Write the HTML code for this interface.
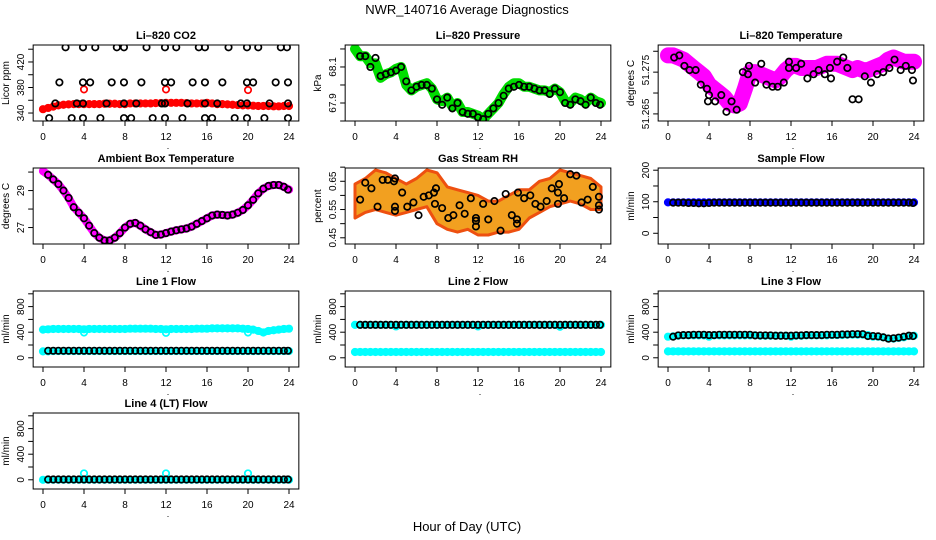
<!DOCTYPE html>
<html><head><meta charset="utf-8"><style>
html,body{margin:0;padding:0;background:#fff;}
svg{display:block;font-family:"Liberation Sans",sans-serif;}
</style></head><body>
<svg id="chart" width="936" height="540" viewBox="0 0 936 540" xmlns="http://www.w3.org/2000/svg">
<text x="467" y="14" text-anchor="middle" font-size="13">NWR_140716  Average Diagnostics</text>
<text x="467" y="531" text-anchor="middle" font-size="13">Hour of Day (UTC)</text>
</svg>
<script>
// ---- shared time arrays ----
const t49 = [0,0.5,1,1.5,2,2.5,3,3.5,4,4.5,5,5.5,6,6.5,7,7.5,8,8.5,9,9.5,10,10.5,11,11.5,12,12.5,13,13.5,14,14.5,15,15.5,16,16.5,17,17.5,18,18.5,19,19.5,20,20.5,21,21.5,22,22.5,23,23.5,24];
const tB = [0.5,1,1.5,2,2.5,3,3.5,4,4.5,5,5.5,6,6.5,7,7.5,8,8.5,9,9.5,10,10.5,11,11.5,12,12.5,13,13.5,14,14.5,15,15.5,16,16.5,17,17.5,18,18.5,19,19.5,20,20.5,21,21.5,22,22.5,23,23.5,23.9];
const t25 = [0,1,2,3,4,5,6,7,8,9,10,11,12,13,14,15,16,17,18,19,20,21,22,23,24];
const xTicks = [0,4,8,12,16,20,24];

// ---- CO2 ----
const co2Red = [346,348,350,352,353,353.5,354,354,354,354,354,354,354.5,354.5,354.5,354,354,355,355,355,355,355,355.5,355.5,356,356,356,356,355.5,355,355,355,356,355,354,354,353.5,353,352.5,352,352,351.5,351,351,351,350.5,350.5,351,351];
const co2OutX = [4,12,20];
const co2OutY = [377,377,376];
const co2BlackX = [2.2,3.9,5.1,7.2,7.9,10.1,11.9,13,15.2,15.8,18.1,19.9,21,23.2,23.8, 1.6,3.9,4.6,6.7,7.9,9.6,11.9,12.5,14.6,15.8,17.5,19.9,20.5,22.7,23.9, 1.2,3.3,3.9,6.2,7.9,9.1,11.6,11.9,14.1,15.8,17,19.3,19.9,22.1,23.9, 0.6,2.8,3.9,5.6,7.9,8.6,10.7,11.9,13.6,15.8,16.5,18.7,19.9,21.6,23.9];
const co2BlackY = [443,443,443,443,443,443,443,443,443,443,443,443,443,443,443, 388,388,388,388,388,388,388,388,388,388,388,388,388,388,388, 355,355,355,355,355,355,355,355,355,355,355,355,355,355,355, 332,332,332,332,332,332,332,332,332,332,332,332,332,332,332];
const co2Ticks = [340,360,380,400,420,440];
const co2Labels = [340,380,420];

// ---- Pressure ----
const presGreen = [68.2,68.16,68.16,68.12,68.12,68.04,68.06,68.07,68.09,68.1,68.0,67.97,67.99,68.0,68.01,67.98,67.92,67.91,67.93,67.88,67.9,67.85,67.85,67.84,67.83,67.81,67.84,67.87,67.9,67.95,67.99,68.01,68.01,67.99,67.99,67.98,67.97,67.97,67.96,67.98,67.96,67.91,67.9,67.93,67.92,67.9,67.93,67.91,67.9];
const presBlack = [68.16,68.16,68.1,68.15,68.05,68.06,68.07,68.08,68.1,68.02,67.97,67.99,68.0,68.0,67.98,67.92,67.89,67.93,67.87,67.9,67.85,67.84,67.84,67.82,67.81,67.84,67.87,67.9,67.94,67.98,67.99,68.0,67.99,67.99,67.98,67.97,67.97,67.95,67.98,67.96,67.9,67.89,67.92,67.91,67.89,67.93,67.9,67.89];
const presTicks = [67.8,67.9,68.0,68.1,68.2];
const presLabels = [67.9,68.1];

// ---- Li-820 temperature ----
const ltMag = [51.279,51.279,51.2785,51.278,51.277,51.276,51.275,51.274,51.272,51.271,51.27,51.269,51.2675,51.267,51.2675,51.271,51.275,51.275,51.2745,51.274,51.2735,51.273,51.274,51.2755,51.2765,51.2765,51.276,51.276,51.276,51.276,51.2765,51.277,51.277,51.277,51.2765,51.276,51.2755,51.276,51.2755,51.2755,51.276,51.2765,51.277,51.278,51.2785,51.278,51.2775,51.2775,51.2775];
const ltBlackX = [0.6,1.1,1.6,2.1,2.7,3.2,3.8,4,3.9,4.6,5.2,5.7,6.2,6.7,7.3,7.8,7.9,8.5,9.1,9.6,10.2,10.7,11.3,11.8,11.8,12.5,13,13.6,14.2,14.7,15.3,15.8,15.9,16.5,17.1,17.5,18,18.6,19.2,19.8,20.4,21,21.6,22.1,22.7,23.2,23.8,23.9];
const ltBlackY = [51.2785,51.279,51.2765,51.2755,51.2755,51.272,51.271,51.2695,51.268,51.268,51.2695,51.2655,51.268,51.266,51.275,51.2745,51.2765,51.2725,51.277,51.272,51.2715,51.2715,51.2725,51.276,51.2775,51.276,51.277,51.2735,51.2745,51.2755,51.2745,51.276,51.2735,51.2775,51.2785,51.276,51.2685,51.2685,51.274,51.2725,51.2745,51.275,51.276,51.278,51.2755,51.2765,51.2755,51.273];
const ltTicks = [51.265,51.27,51.275,51.28];
const ltLabels = ["51.265","51.275"];
const ltLabelVals = [51.265,51.2755];

// ---- Ambient box temperature ----
const ambMag = [30.05,29.85,29.6,29.35,29.0,28.6,28.1,27.8,27.5,27.1,26.7,26.45,26.3,26.3,26.45,26.7,27.0,27.2,27.25,27.1,26.9,26.75,26.6,26.62,26.7,26.78,26.85,26.9,26.95,27.05,27.2,27.35,27.5,27.65,27.7,27.68,27.65,27.7,27.8,27.95,28.2,28.5,28.85,29.1,29.25,29.3,29.3,29.2,29.05];
const ambBlack = [29.85,29.6,29.35,29.0,28.6,28.1,27.8,27.5,27.1,26.7,26.45,26.3,26.3,26.45,26.7,27.0,27.2,27.25,27.1,26.9,26.75,26.6,26.62,26.7,26.78,26.85,26.9,26.95,27.05,27.2,27.35,27.5,27.65,27.7,27.68,27.65,27.7,27.8,27.95,28.2,28.5,28.85,29.1,29.25,29.3,29.3,29.2,29.05];
const ambTicks = [27,28,29,30];
const ambLabels = [27,29];

// ---- Gas stream RH ----
const rhLo = [0.52,0.54,0.55,0.54,0.53,0.54,0.55,0.56,0.50,0.48,0.47,0.48,0.46,0.46,0.47,0.47,0.48,0.52,0.54,0.56,0.57,0.58,0.57,0.55,0.55];
const rhHi = [0.64,0.66,0.69,0.68,0.66,0.64,0.66,0.69,0.68,0.63,0.62,0.61,0.60,0.58,0.58,0.60,0.62,0.62,0.65,0.66,0.69,0.68,0.67,0.66,0.63];
const rhBlackX = [0.5,1,1.6,2.2,2.7,3.2,3.8,3.9,3.9,3.9,4.6,5.1,5.7,6.2,6.7,7.2,7.7,7.9,7.8,8.5,9.1,9.6,10.2,10.7,11.3,11.8,11.8,11.8,12.5,13,13.6,14.2,14.7,15.3,15.8,15.8,15.9,16.5,17.1,17.6,18.1,18.7,19.2,19.8,19.9,19.8,20.4,21,21.6,22.1,22.7,23.2,23.8,23.8,23.8];
const rhBlackY = [0.585,0.645,0.625,0.56,0.655,0.655,0.65,0.66,0.56,0.545,0.61,0.56,0.575,0.53,0.595,0.6,0.61,0.625,0.57,0.555,0.52,0.53,0.565,0.535,0.59,0.52,0.49,0.51,0.57,0.515,0.58,0.475,0.605,0.53,0.515,0.5,0.61,0.59,0.6,0.57,0.56,0.58,0.625,0.61,0.64,0.57,0.59,0.675,0.67,0.575,0.585,0.63,0.595,0.565,0.55];
const rhTicks = [0.45,0.5,0.55,0.6,0.65,0.7];
const rhLabels = [0.45,0.55,0.65];

// ---- Flows ----
const sampBlue = [98,98,98,98,98,98,98,98,98,98,98,98,98,98,98,98,98,98,98,98,98,98,98,98,98,98,98,98,98,98,98,98,98,98,98,98,98,98,98,98,98,98,98,98,98,98,98,98,98];
const sampBlack = [97,97,97,96,96,95,95,96,97,97,97,97,97,97,97,97,97,97,97,97,97,97,97,97,97,97,97,97,97,97,97,97,97,97,97,97,97,97,97,97,97,97,97,97,97,97,97,96];
const sampTicks = [0,50,100,150,200];
const sampLabels = [0,100,200];

const l1High = [440,445,450,450,450,450,450,450,445,450,450,450,450,450,450,450,450,455,455,455,455,455,450,450,445,450,450,450,450,450,455,455,455,460,460,460,460,460,460,455,450,440,420,395,420,430,440,450,455];
const l1Low = [100,100,105,105,105,105,105,105,105,105,105,105,105,105,105,105,105,105,105,105,105,105,105,105,105,105,105,105,105,105,105,105,105,105,105,105,105,105,105,105,105,105,105,105,105,105,105,105,105];
const l1Black = [110,110,110,110,110,110,110,110,110,110,110,110,110,110,110,110,110,110,110,110,110,110,110,110,110,110,110,110,110,110,110,110,110,110,110,110,110,110,110,110,110,110,110,110,110,110,110,110];
const l1Out = [395,390,395];

const l2High = [515,515,515,515,515,515,515,515,490,515,515,515,515,515,515,515,515,515,515,515,515,515,515,515,490,515,515,515,515,515,515,515,515,515,515,515,515,515,515,515,485,515,515,515,515,515,515,515,515];
const l2Low = [90,90,90,90,90,90,90,90,90,90,90,90,90,90,90,90,90,90,90,90,90,90,90,90,90,90,90,90,90,90,90,90,90,90,90,90,90,90,90,90,90,90,90,90,90,90,90,90,90];
const l2Black = [515,515,515,515,515,515,515,515,515,515,515,515,515,515,515,515,515,515,515,515,515,515,515,515,515,515,515,515,515,515,515,515,515,515,515,515,515,515,515,515,515,515,515,515,515,515,515,515];

const l3High = [330,335,345,350,350,350,350,350,330,350,350,350,350,350,350,350,350,350,345,345,345,345,345,345,330,345,345,350,350,350,350,350,355,355,355,360,360,360,360,355,330,330,320,300,300,310,320,340,345];
const l3Low = [100,100,100,100,100,100,100,100,100,100,100,100,100,100,100,100,100,100,100,100,100,100,100,100,100,100,100,100,100,100,100,100,100,100,100,100,100,100,100,100,100,100,100,100,100,100,100,100,100];
const l3Black = [330,350,355,355,360,360,360,355,355,360,360,360,360,360,360,360,350,350,350,350,345,345,345,345,350,350,355,355,355,355,360,360,360,365,365,370,370,370,340,340,335,320,300,305,315,330,345,340];

const l4Cyan = [0,0,0,0,0,0,0,0,0,0,0,0,0,0,0,0,0,0,0,0,0,0,0,0,0,0,0,0,0,0,0,0,0,0,0,0,0,0,0,0,0,0,0,0,0,0,0,0,0];
const l4Black = [5,5,5,5,5,5,5,5,5,5,5,5,5,5,5,5,5,5,5,5,5,5,5,5,5,5,5,5,5,5,5,5,5,5,5,5,5,5,5,5,5,5,5,5,5,5,5,5];
const l4OutX = [4,12,20];
const l4Out = [100,100,100];
const flowTicks = [0,200,400,600,800,1000];
const flowLabels = [0,400,800];

// ---- rendering ----
const NS = "http://www.w3.org/2000/svg";
const svg = document.getElementById('chart');
const colX0 = [43,355,668];
const rowTop = [45,168,291,413];
const PXH = 10.25, BOXH = 76, BOXW = 25.92*PXH;

function mk(tag, attrs, parent){
  const e = document.createElementNS(NS, tag);
  for (const k in attrs) e.setAttribute(k, attrs[k]);
  (parent||svg).appendChild(e);
  return e;
}

function panel(col,row,title,ylab,ymin,ymax,ticks,labels,labelVals,slug){
  const g = mk('g',{});
  
  
  const x0 = colX0[col], top = rowTop[row], left = x0 - 0.96*PXH;
  const sx = h => x0 + h*PXH;
  const sy = v => top + BOXH - (v-ymin)/(ymax-ymin)*BOXH;
  const clip = mk('clipPath',{id:'c'+slug},g);
  mk('rect',{x:left,y:top,width:BOXW,height:BOXH},clip);
  const plot = mk('g',{'clip-path':'url(#c'+slug+')'},g);
  
  
  const box = mk('rect',{x:left,y:top,width:BOXW,height:BOXH,fill:'none',stroke:'#000','stroke-width':1},g);
  
  
  const tt = mk('text',{x:left+BOXW/2,y:top-6,'text-anchor':'middle','font-size':11,'font-weight':'bold'},g);
  tt.textContent = title;
  
  
  // x axis
  const xa = mk('g',{},g);
  
  
  xTicks.forEach(h=>{
    mk('line',{x1:sx(h),x2:sx(h),y1:top+BOXH,y2:top+BOXH+5,stroke:'#000'},xa);
    const t = mk('text',{x:sx(h),y:top+BOXH+19,'text-anchor':'middle','font-size':10},xa);
    t.textContent = h;
    
    
  });
  const dot = mk('text',{x:sx(12)+2,y:top+BOXH+28,'text-anchor':'middle','font-size':9},xa);
  dot.textContent = '.';
  // y axis
  const ya = mk('g',{},g);
  
  
  ticks.forEach(v=>{
    const y = sy(v);
    if (y < top-1 || y > top+BOXH+1) return;
    mk('line',{x1:left-5,x2:left,y1:y,y2:y,stroke:'#000'},ya);
  });
  labels.forEach((lab,i)=>{
    const v = labelVals ? labelVals[i] : lab;
    const y = sy(v), x = left-9;
    const t = mk('text',{x:x,y:y,'text-anchor':'middle','font-size':10,transform:'rotate(-90 '+x+' '+y+')'},ya);
    t.textContent = lab;
    
    
  });
  const yl = mk('text',{x:left-24,y:top+BOXH/2,'text-anchor':'middle','font-size':10,transform:'rotate(-90 '+(left-24)+' '+(top+BOXH/2)+')'},g);
  yl.textContent = ylab;
  
  
  return {sx,sy,plot};
}

function band(p,xs,ys,color,w,name){
  const d = xs.map((h,i)=>(i?'L':'M')+p.sx(h).toFixed(1)+' '+p.sy(ys[i]).toFixed(1)).join(' ');
  const path = mk('path',{d:d,fill:'none',stroke:color,'stroke-width':w,'stroke-linejoin':'round','stroke-linecap':'round'},p.plot);
  
  
  xs.forEach((h,i)=>{
    const c = mk('circle',{cx:p.sx(h),cy:p.sy(ys[i]),r:3.2,fill:'none',stroke:color,'stroke-width':1.8},p.plot);
    
    
  });
}
function area(p,xs,lo,hi,fill,stroke,name){
  const up = xs.map((h,i)=>(i?'L':'M')+p.sx(h).toFixed(1)+' '+p.sy(hi[i]).toFixed(1)).join(' ');
  const dn = xs.slice().reverse().map((h,j)=>{const i=xs.length-1-j;return 'L'+p.sx(h).toFixed(1)+' '+p.sy(lo[i]).toFixed(1);}).join(' ');
  const path = mk('path',{d:up+' '+dn+' Z',fill:fill,stroke:stroke,'stroke-width':3,'stroke-linejoin':'round'},p.plot);
  
  
}
function pts(p,xs,ys,color,name,r){
  xs.forEach((h,i)=>{
    const c = mk('circle',{cx:p.sx(h),cy:p.sy(ys[i]),r:r||3.2,fill:'none',stroke:color,'stroke-width':1.7},p.plot);
    
    
  });
}

// CO2
let p = panel(0,0,'Li\u2013820 CO2','Licor ppm',327.5,446.6,co2Ticks,co2Labels,null,'co2');
band(p,t49,co2Red,'#ff0000',6,'co2-red-series');
pts(p,co2OutX,co2OutY,'#ff0000','co2-red-outlier');
pts(p,co2BlackX,co2BlackY,'#000','co2-black-point');

// Pressure
p = panel(1,0,'Li\u2013820 Pressure','kPa',67.8,68.222,presTicks,presLabels,null,'pressure');
band(p,t49,presGreen,'#00dd00',10,'pressure-green-series');
pts(p,tB,presBlack,'#000','pressure-black-point');

// Li temp
p = panel(2,0,'Li\u2013820 Temperature','degrees C',51.2633,51.2815,ltTicks,ltLabels,ltLabelVals,'li-temp');
band(p,t49,ltMag,'#ff00ff',16,'li-temp-magenta-series');
pts(p,ltBlackX,ltBlackY,'#000','li-temp-black-point');

// Ambient
p = panel(0,1,'Ambient Box Temperature','degrees C',26.11,30.22,ambTicks,ambLabels,null,'ambient');
band(p,t49,ambMag,'#ff00ff',8,'ambient-magenta-series');
pts(p,tB,ambBlack,'#000','ambient-black-point');

// RH
p = panel(1,1,'Gas Stream RH','percent',0.428,0.697,rhTicks,rhLabels,null,'rh');
area(p,t25,rhLo,rhHi,'#f2a020','#ee5010','rh-orange-cloud');
pts(p,rhBlackX,rhBlackY,'#000','rh-black-point');

// Sample flow
p = panel(2,1,'Sample Flow','ml/min',-34,207,sampTicks,sampLabels,null,'sample-flow');
band(p,t49,sampBlue,'#0000ff',6,'sample-flow-blue-series');
pts(p,tB,sampBlack,'#000','sample-flow-black-point');

// Line 1
p = panel(0,2,'Line 1 Flow','ml/min',-144,1044,flowTicks,flowLabels,null,'line1');
band(p,t49,l1High,'#00ffff',7,'line1-cyan-high');
band(p,t49,l1Low,'#00ffff',6,'line1-cyan-low');
pts(p,co2OutX,l1Out,'#00ffff','line1-cyan-outlier');
pts(p,tB,l1Black,'#000','line1-black-point');

// Line 2
p = panel(1,2,'Line 2 Flow','ml/min',-144,1044,flowTicks,flowLabels,null,'line2');
band(p,t49,l2High,'#00ffff',6,'line2-cyan-high');
band(p,t49,l2Low,'#00ffff',7,'line2-cyan-low');
pts(p,tB,l2Black,'#000','line2-black-point');

// Line 3
p = panel(2,2,'Line 3 Flow','ml/min',-144,1044,flowTicks,flowLabels,null,'line3');
band(p,t49,l3High,'#00ffff',6,'line3-cyan-high');
band(p,t49,l3Low,'#00ffff',7,'line3-cyan-low');
pts(p,tB,l3Black,'#000','line3-black-point');

// Line 4
p = panel(0,3,'Line 4 (LT) Flow','ml/min',-144,1044,flowTicks,flowLabels,null,'line4');
band(p,t49,l4Cyan,'#00ffff',6,'line4-cyan-series');
pts(p,l4OutX,l4Out,'#00ffff','line4-cyan-outlier');
pts(p,tB,l4Black,'#000','line4-black-point');
</script>
</body></html>
